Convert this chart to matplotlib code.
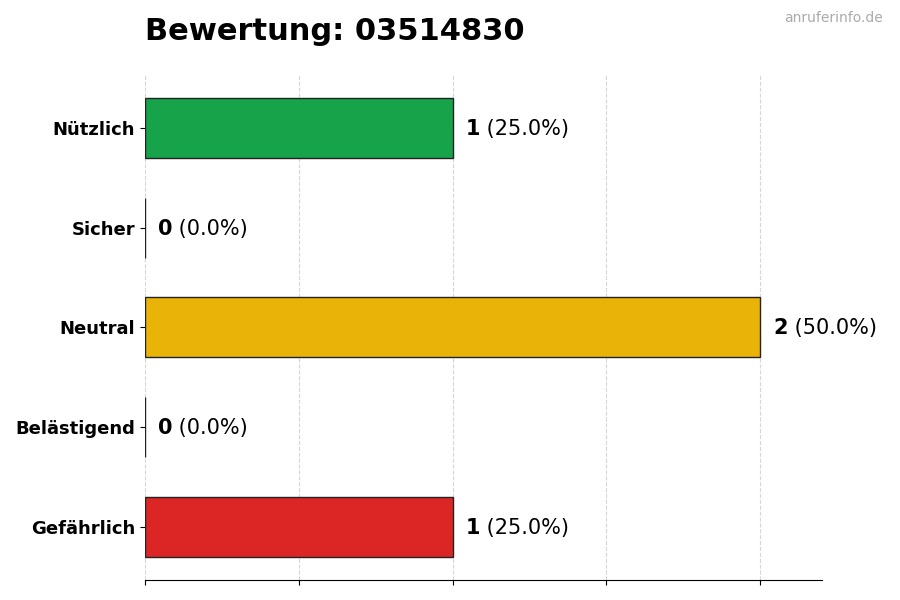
import matplotlib
matplotlib.use('Agg')
import matplotlib.pyplot as plt

# data
categories = ['Nützlich', 'Sicher', 'Neutral', 'Belästigend', 'Gefährlich']
counts = [1, 0, 2, 0, 1]
colors = ['#16a34a', '#22c55e', '#eab308', '#f97316', '#dc2626']
title = 'Bewertung: 03514830'

total = sum(counts)
ypos = list(range(len(categories)))

fig = plt.figure(figsize=(9, 6), dpi=100)
ax = fig.add_axes([0.161, 0.0333, 0.752, 0.842])

ax.barh(ypos, counts, height=0.6, color=colors, edgecolor='#222222',
        linewidth=1, zorder=2)
ax.invert_yaxis()
ax.set_xlim(0, max(counts) * 1.1)
ax.set_yticks(ypos)
ax.set_yticklabels(categories, fontsize=13, fontweight='bold')
ax.set_xticks([0, 0.5, 1, 1.5, 2])
ax.set_xticklabels([])
# grid sits on top of the bars, very faint
ax.grid(axis='x', linestyle='--', color='#bbbbbb', linewidth=0.8, alpha=0.6, zorder=3)
for s in ['top', 'right', 'left']:
    ax.spines[s].set_visible(False)

# value labels: bold count + normal percentage
off = max(counts) * 0.021
for y, c in zip(ypos, counts):
    t = ax.text(c + off, y + 0.01, str(c), fontsize=15, fontweight='bold',
                va='center', ha='left')
    ax.annotate(' (%.1f%%)' % (c / total * 100), xy=(1, 0), xycoords=t,
                fontsize=15, va='bottom', ha='left')

fig.text(0.161, 0.948, title, fontsize=22, fontweight='bold', ha='left', va='center')
fig.text(0.981, 0.970, 'anruferinfo.de', fontsize=10, color='#aaaaaa',
         ha='right', va='center')

fig.savefig('out.png', dpi=100)
